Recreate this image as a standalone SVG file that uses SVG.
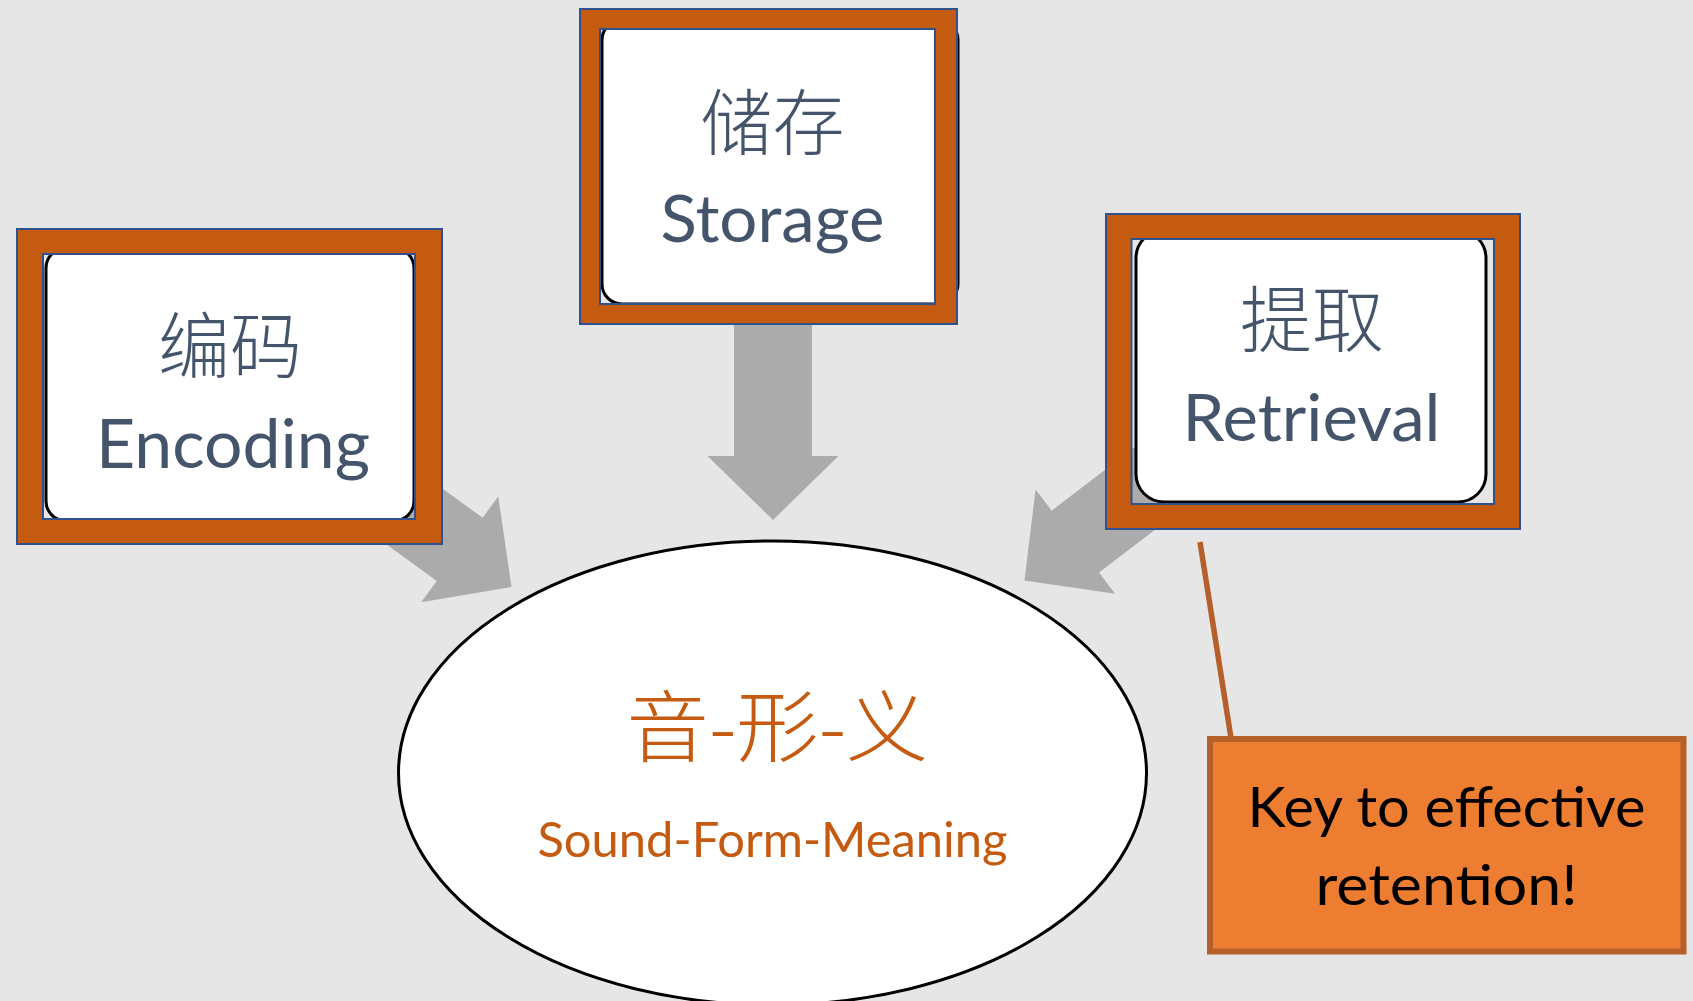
<svg xmlns="http://www.w3.org/2000/svg" xmlns:xlink="http://www.w3.org/1999/xlink" width="1693" height="1001" viewBox="0 0 1693 1001">
  <style>
    .frame { fill: #C55A11; fill-rule: evenodd; }
    .edge { fill: none; stroke: #2F528F; stroke-width: 2; }
    .card { fill: #FFFFFF; stroke: #000000; stroke-width: 3; }
    .zh { font-family: 'Noto Sans CJK SC', 'Noto Sans CJK TC', sans-serif; font-weight: 300; fill: #44546A; text-anchor: middle; }
    .en { font-family: Lato, 'Open Sans', sans-serif; fill: #44546A; text-anchor: middle; }
    .arrow { fill: #ABABAB; }
  </style>
  <defs>
    <polygon id="blockArrow" points="-39,-300 39,-300 39,-64 65.5,-64 0,0 -65.5,-64 -39,-64"/>
  </defs>
  <rect x="0" y="0" width="1693" height="1001" fill="#E7E6E6"/>

  <g id="connectors">
    <use xlink:href="#blockArrow" href="#blockArrow" class="arrow" transform="translate(773,520)"/>
    <use xlink:href="#blockArrow" href="#blockArrow" class="arrow" transform="translate(511.5,587) rotate(-54)"/>
    <use xlink:href="#blockArrow" href="#blockArrow" class="arrow" transform="translate(1024.5,580.5) rotate(52.6)"/>
    <line x1="1200" y1="542" x2="1231" y2="738" stroke="#B5602A" stroke-width="5.5"/>
  </g>

  <g id="node-encoding">
    <rect class="card" x="46" y="248" width="368" height="273" rx="20"/>
    <path class="frame" d="M17,229 H442 V544 H17 Z M43,254 V519 H415 V254 Z"/>
    <rect class="edge" x="17" y="229" width="425" height="315"/>
    <rect class="edge" x="43" y="254" width="372" height="265"/>
    <text class="zh" x="230" y="372" font-size="72">编码</text>
    <text class="en" x="233" y="468" font-size="67" textLength="274" lengthAdjust="spacingAndGlyphs">Encoding</text>
  </g>

  <g id="node-storage">
    <rect class="card" x="602" y="20" width="356" height="284" rx="20"/>
    <path class="frame" d="M580,9 H957 V324 H580 Z M600,29 V304 H935 V29 Z"/>
    <rect class="edge" x="580" y="9" width="377" height="315"/>
    <rect class="edge" x="600" y="29" width="335" height="275"/>
    <text class="zh" x="772.5" y="149" font-size="72">储存</text>
    <text class="en" x="772.5" y="242" font-size="66" textLength="224" lengthAdjust="spacingAndGlyphs">Storage</text>
  </g>

  <g id="node-retrieval">
    <rect class="card" x="1136" y="230" width="350" height="272" rx="28"/>
    <path class="frame" d="M1106,214 H1520 V529 H1106 Z M1131.5,239 V504 H1494 V239 Z"/>
    <rect class="edge" x="1106" y="214" width="414" height="315"/>
    <rect class="edge" x="1131.5" y="239" width="362.5" height="265"/>
    <text class="zh" x="1312" y="346" font-size="72">提取</text>
    <text class="en" x="1311.5" y="440.5" font-size="66" textLength="258" lengthAdjust="spacingAndGlyphs">Retrieval</text>
  </g>

  <g id="node-center">
    <ellipse cx="772.5" cy="773" rx="374" ry="232" fill="#FFFFFF" stroke="#000000" stroke-width="3"/>
    <text x="777.5" y="756" font-family="'Noto Sans CJK SC', sans-serif" font-weight="300" font-size="78" fill="#C55A11" text-anchor="middle" textLength="302" lengthAdjust="spacingAndGlyphs">音-形-义</text>
    <text x="772.5" y="857" font-family="Lato, 'Open Sans', sans-serif" font-size="49" fill="#C55A11" text-anchor="middle" textLength="470" lengthAdjust="spacingAndGlyphs">Sound-Form-Meaning</text>
  </g>

  <g id="node-key">
    <rect x="1210" y="739" width="473.5" height="212.5" fill="#ED7D31" stroke="#B5602A" stroke-width="6"/>
    <text x="1446.5" y="827" font-family="Lato, 'Open Sans', sans-serif" font-size="56" fill="#000000" text-anchor="middle" textLength="398" lengthAdjust="spacingAndGlyphs">Key to effective</text>
    <text x="1446.5" y="905" font-family="Lato, 'Open Sans', sans-serif" font-size="56" fill="#000000" text-anchor="middle" textLength="262" lengthAdjust="spacingAndGlyphs">retention!</text>
  </g>
</svg>
